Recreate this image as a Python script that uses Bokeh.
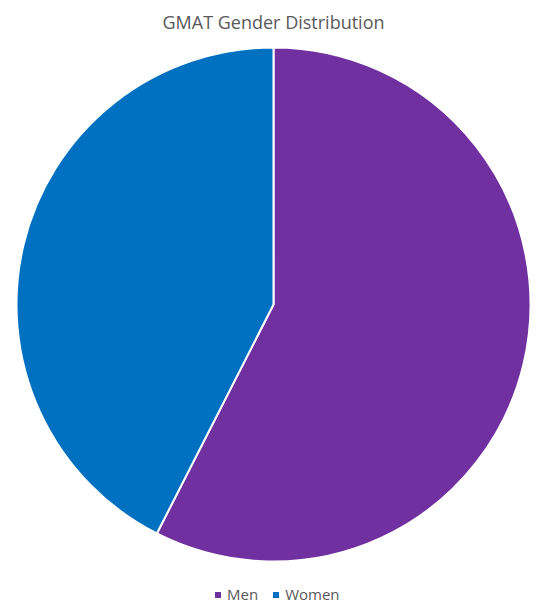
import math
from bokeh.plotting import figure
from bokeh.models import Range1d, Legend, LegendItem, ColumnDataSource
from bokeh.core.properties import value
from bokeh.embed import file_html
from bokeh.resources import INLINE

title_text = "GMAT Gender Distribution"
categories = ["Men", "Women"]
shares = [57.5, 42.5]
colors = ["#7030A0", "#0070C0"]

W, H = 552, 612
p = figure(width=W, height=H, output_backend="svg", toolbar_location=None,
           x_range=Range1d(0, W), y_range=Range1d(0, H),
           min_border=0, outline_line_color=None)
p.axis.visible = False
p.grid.visible = False
p.background_fill_color = "white"
p.border_fill_color = "white"

cx, cy, r = 273, H - 304, 257
total = sum(shares)
starts, ends = [], []
a = math.pi / 2
for s in shares:
    starts.append(a)
    a -= 2 * math.pi * s / total
    ends.append(a)

src = ColumnDataSource(dict(cat=categories, share=shares, color=colors,
                            start=starts, end=ends))
p.wedge(x=cx, y=cy, radius=r, start_angle="start", end_angle="end",
        direction="clock", fill_color="color", line_color="white",
        line_width=2, source=src)

p.text(x=[273], y=[H - 21], text=[title_text], text_align="center",
       text_baseline="alphabetic", text_font=value("Open Sans"),
       text_font_size="18px", text_color="#595959")

# legend swatches (points placed outside the visible range)
markers = [p.scatter(x=[-1000], y=[-1000], marker="square", size=7, color=c,
                     line_color=None) for c in colors]
legend = Legend(items=[LegendItem(label=c, renderers=[m])
                       for c, m in zip(categories, markers)],
                orientation="horizontal", location=(210, 8),
                border_line_color=None, background_fill_alpha=0,
                padding=0, margin=0, spacing=10,
                glyph_width=15, glyph_height=15, label_standoff=2,
                label_text_font="Open Sans", label_text_font_size="15px",
                label_text_color="#595959", label_height=16)
p.add_layout(legend)

open("out.html", "w").write(file_html(p, INLINE))
